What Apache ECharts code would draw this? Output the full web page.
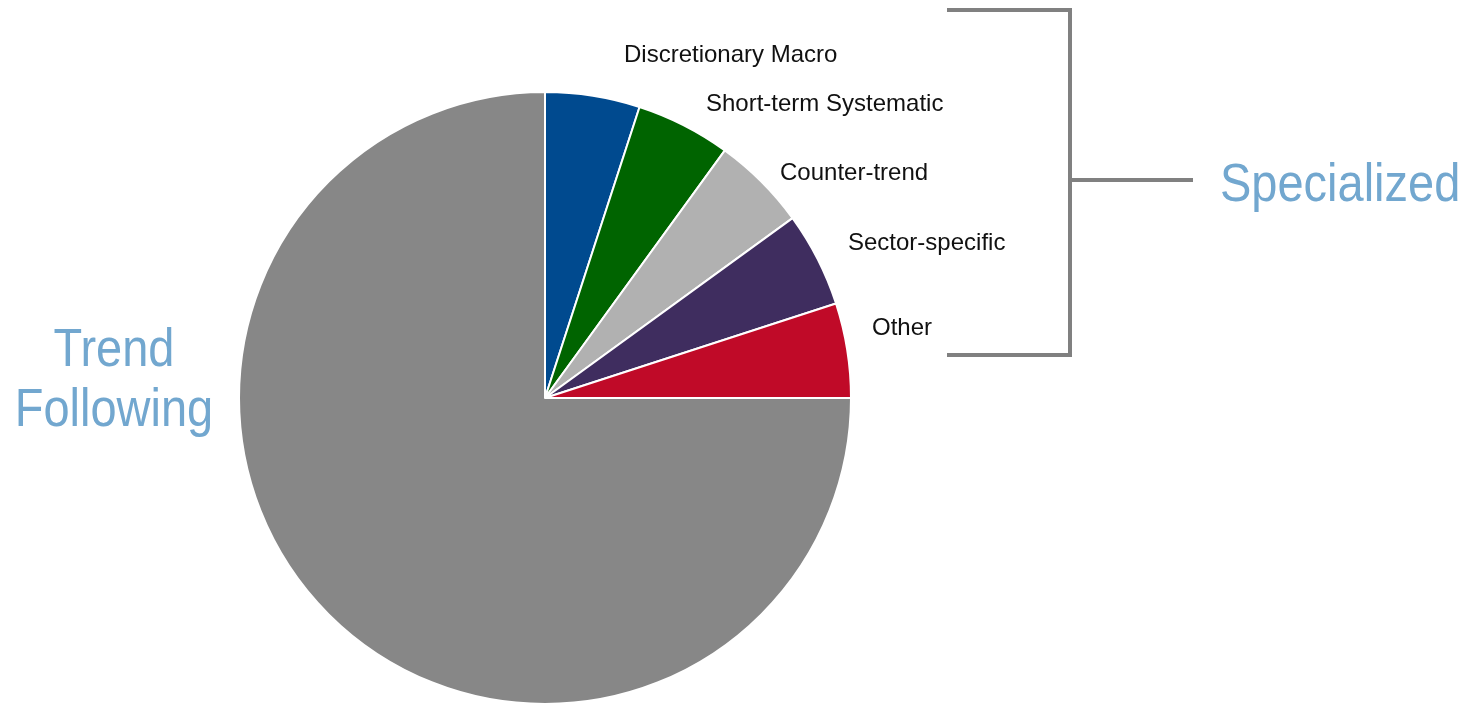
<!DOCTYPE html>
<html>
<head>
<meta charset="utf-8">
<script src="https://cdn.jsdelivr.net/npm/echarts@6/dist/echarts.min.js"></script>
<style>
html,body{margin:0;padding:0;background:#fff;}
#chart{width:1470px;height:705px;}
</style>
</head>
<body>
<div id="chart"></div>
<script>
const categories = ['Discretionary Macro', 'Short-term Systematic', 'Counter-trend', 'Sector-specific', 'Other', 'Trend Following'];
const values = [5, 5, 5, 5, 5, 75];
const colors = ['#004a8f', '#006400', '#b1b1b1', '#3f2d5f', '#c00a28', '#878787'];
const groupLabel = 'Specialized';
const bigLabel = 'Trend\nFollowing';

const FONT = "'Liberation Sans', Arial, sans-serif";
const BLUE = '#72a7cf';

// label anchor points (layout only)
const labelAnchors = [
  [624, 55], [706, 104], [780, 173], [848, 243], [872, 328]
];

const chart = echarts.init(document.getElementById('chart'), null, {renderer: 'canvas'});

const data = categories.map((c, i) => {
  const isBig = i === categories.length - 1;
  return {
    name: c,
    value: values[i],
    itemStyle: {color: colors[i]},
    label: isBig ? {show: false} : {
      formatter: '{b}', color: '#111', fontSize: 24, fontFamily: FONT, align: 'left'
    }
  };
});

chart.setOption({
  animation: false,
  backgroundColor: '#fff',
  series: [{
    type: 'pie',
    center: [545, 398],
    radius: [0, 306],
    startAngle: 90,
    clockwise: true,
    avoidLabelOverlap: false,
    itemStyle: {borderColor: '#fff', borderWidth: 2},
    label: {show: true, position: 'outside'},
    labelLine: {show: false},
    emphasis: {disabled: true},
    data: data,
    labelLayout: function (p) {
      const a = labelAnchors[p.dataIndex];
      if (!a) return {};
      return {x: a[0], y: a[1], align: 'left', verticalAlign: 'middle'};
    }
  }],
  graphic: [
    {
      type: 'polyline',
      shape: {points: [[947, 10], [1070, 10], [1070, 355], [947, 355]]},
      style: {stroke: '#808080', lineWidth: 4, fill: null, lineJoin: 'miter'}
    },
    {
      type: 'line',
      shape: {x1: 1070, y1: 180, x2: 1193, y2: 180},
      style: {stroke: '#808080', lineWidth: 4}
    },
    {
      type: 'text',
      x: 1220, y: 186, scaleX: 0.87,
      style: {text: groupLabel, fill: BLUE, font: '54px ' + FONT, textVerticalAlign: 'middle', textAlign: 'left'}
    },
    {
      type: 'text',
      x: 114, y: 381, scaleX: 0.87,
      style: {text: bigLabel, fill: BLUE, font: '54px ' + FONT, lineHeight: 60, textVerticalAlign: 'middle', textAlign: 'center'}
    }
  ]
});
</script>
</body>
</html>
